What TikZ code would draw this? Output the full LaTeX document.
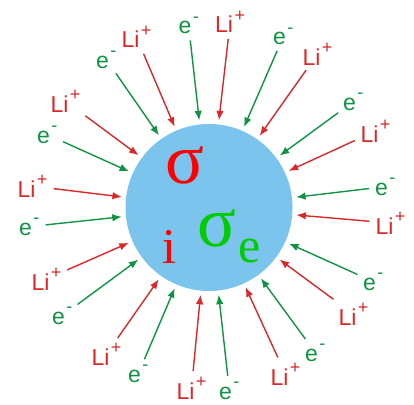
\documentclass[tikz,border=0pt]{standalone}
\usepackage{fontspec}
\setmainfont{Liberation Sans}
\newfontfamily\greekserif{Liberation Serif}
\usepackage{xcolor}
\usepackage{tikz}
\usetikzlibrary{arrows.meta}

\definecolor{ionred}{RGB}{216,40,40}
\definecolor{elecgreen}{RGB}{16,148,68}
\definecolor{ballblue}{RGB}{122,196,238}
\definecolor{sigred}{RGB}{255,0,0}
\definecolor{siggreen}{RGB}{0,204,0}

\newcommand{\chg}[1]{\kern1.5pt\raisebox{11.5pt}{\fontsize{18}{18}\selectfont #1}}

\begin{document}
\begin{tikzpicture}[
    x=1pt, y=-1pt,
    ball/.style={circle, fill=ballblue, minimum size=167pt, inner sep=0pt},
    sig/.style={inner sep=0pt, font=\greekserif\fontsize{72}{72}\selectfont},
    sub/.style={inner sep=0pt, font=\greekserif\fontsize{50}{50}\selectfont},
    ion/.style={inner sep=0pt, anchor=base west, text=ionred, font=\fontsize{23}{23}\selectfont},
    elec/.style={inner sep=0pt, anchor=base west, text=elecgreen, font=\fontsize{23}{23}\selectfont},
    ionarrow/.style={-{Latex[length=9.5pt,width=7.5pt]}, ionred, line width=1.4pt, shorten <=6pt, shorten >=4pt},
    elecarrow/.style={-{Latex[length=9.5pt,width=7.5pt]}, elecgreen, line width=1.4pt, shorten <=6pt, shorten >=4pt},
  ]
    \useasboundingbox (0,0) rectangle (414,404);

    \node[ball] (ball) at (209,207.5) {};
    \node[sig, text=sigred] (sigion) at (185,165) {σ};
    \node[sub, text=sigred] (subion) at (169,246.5) {i};
    \node[sig, text=siggreen] (sigelec) at (217,228.5) {σ};
    \node[sub, text=siggreen] (subelec) at (250,251) {e};

    \node[ion] (li1) at (215,32.7) {Li\chg{+}};
    \node[ion] (li2) at (302.3,65) {Li\chg{+}};
    \node[ion] (li3) at (360.3,142) {Li\chg{+}};
    \node[ion] (li4) at (375.3,234) {Li\chg{+}};
    \node[ion] (li5) at (338.3,325) {Li\chg{+}};
    \node[ion] (li6) at (270.3,385) {Li\chg{+}};
    \node[ion] (li7) at (176.3,399) {Li\chg{+}};
    \node[ion] (li8) at (91.3,365) {Li\chg{+}};
    \node[ion] (li9) at (31.3,290) {Li\chg{+}};
    \node[ion] (li10) at (17.3,197) {Li\chg{+}};
    \node[ion] (li11) at (50.3,112) {Li\chg{+}};
    \node[ion] (li12) at (121.3,48) {Li\chg{+}};

    \node[elec] (el1) at (273,45) {e\chg{-}};
    \node[elec] (el2) at (343,110) {e\chg{-}};
    \node[elec] (el3) at (375,195) {e\chg{-}};
    \node[elec] (el4) at (363,290) {e\chg{-}};
    \node[elec] (el5) at (305,361) {e\chg{-}};
    \node[elec] (el6) at (219,399) {e\chg{-}};
    \node[elec] (el7) at (128,382) {e\chg{-}};
    \node[elec] (el8) at (52,324) {e\chg{-}};
    \node[elec] (el9) at (19,235) {e\chg{-}};
    \node[elec] (el10) at (37,143) {e\chg{-}};
    \node[elec] (el11) at (96,68) {e\chg{-}};
    \node[elec] (el12) at (178.3,34) {e\chg{-}};

    \draw[ionarrow] (li1) -- (ball);
    \draw[ionarrow] (li2) -- (ball);
    \draw[ionarrow] (li3) -- (ball);
    \draw[ionarrow] (li4) -- (ball);
    \draw[ionarrow] (li5) -- (ball);
    \draw[ionarrow] (li6) -- (ball);
    \draw[ionarrow] (li7) -- (ball);
    \draw[ionarrow] (li8) -- (ball);
    \draw[ionarrow] (li9) -- (ball);
    \draw[ionarrow] (li10) -- (ball);
    \draw[ionarrow] (li11) -- (ball);
    \draw[ionarrow] (li12) -- (ball);

    \draw[elecarrow] (el1) -- (ball);
    \draw[elecarrow] (el2) -- (ball);
    \draw[elecarrow] (el3) -- (ball);
    \draw[elecarrow] (el4) -- (ball);
    \draw[elecarrow] (el5) -- (ball);
    \draw[elecarrow] (el6) -- (ball);
    \draw[elecarrow] (el7) -- (ball);
    \draw[elecarrow] (el8) -- (ball);
    \draw[elecarrow] (el9) -- (ball);
    \draw[elecarrow] (el10) -- (ball);
    \draw[elecarrow] (el11) -- (ball);
    \draw[elecarrow] (el12) -- (ball);
  \end{tikzpicture}
\end{document}
